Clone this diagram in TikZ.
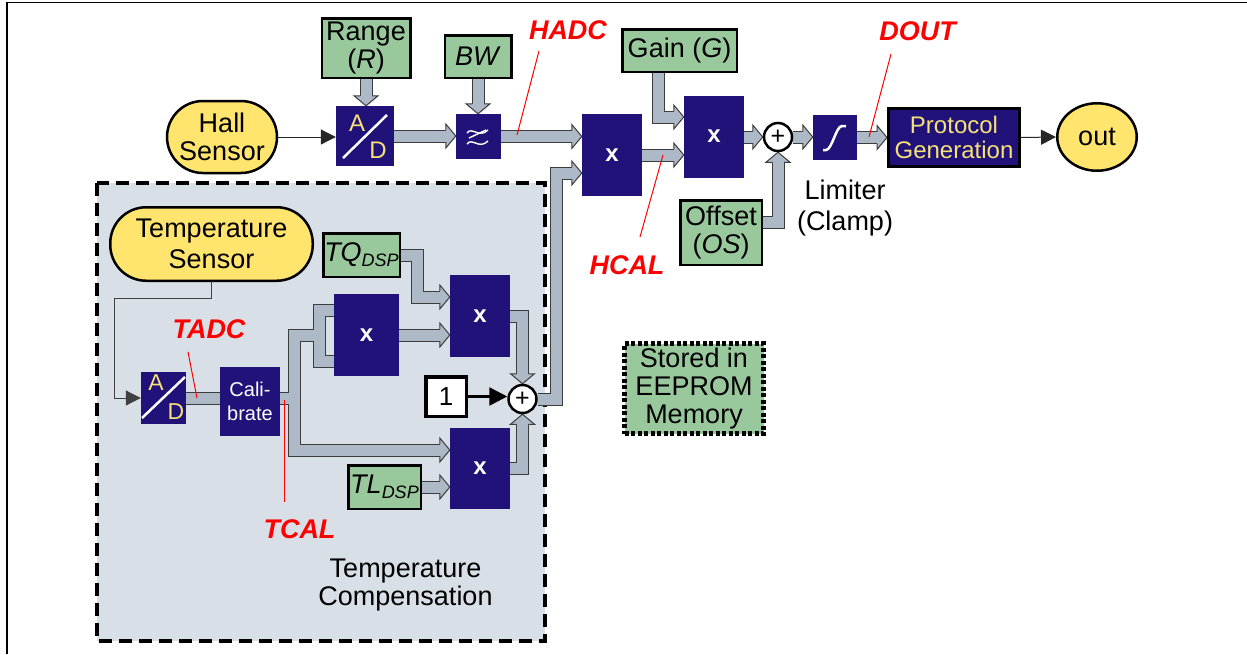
\documentclass[tikz,border=0pt]{standalone}
\usepackage{fontspec}
\setmainfont{Liberation Sans}
\usetikzlibrary{arrows.meta,shapes.geometric}
\pgfdeclarelayer{back}
\pgfdeclarelayer{bg}
\pgfsetlayers{back,bg,main}
\definecolor{navy}{RGB}{32,18,120}
\definecolor{sens}{RGB}{255,228,110}
\definecolor{param}{RGB}{152,200,155}
\definecolor{shaftc}{RGB}{173,185,198}
\definecolor{shaftl}{RGB}{60,60,60}
\definecolor{tcbg}{RGB}{217,223,231}
\definecolor{ytext}{RGB}{245,225,120}
\newcommand\myfs[2]{\fontsize{#1pt}{#2pt}\selectfont}
\tikzset{
  blk/.style={fill=navy, inner sep=0pt, text=white, font=\myfs{24}{28}\bfseries},
  prm/.style={draw=black, line width=2.5pt, fill=param, inner sep=0pt, align=center, font=\myfs{27}{28}},
  sensor/.style={draw=black, line width=2.5pt, fill=sens, inner sep=0pt, align=center, font=\myfs{27}{28}},
  txt/.style={inner sep=0pt, align=center, font=\myfs{27}{28.5}},
  redtag/.style={inner sep=0pt, text=red, font=\myfs{27}{28}\bfseries\itshape},
  shaft/.style={draw=shaftc, line width=11pt, preaction={draw=shaftl, line width=13pt}},
  shaftH/.style={shaft, shorten >=9.5pt},
  sumnode/.style={circle, draw=black, line width=2.5pt, fill=white, minimum size=28pt, inner sep=0pt, font=\myfs{25}{25}},
  thinarrow/.style={draw=black!85, line width=1pt, -{Triangle[length=15pt,width=15pt]}},
  leader/.style={draw=red, line width=1pt},
  letter/.style={inner sep=0pt, text=ytext, font=\myfs{24}{24}},
  headR/.pic={\fill[shaftc] (-10,-12) -- (0,0) -- (-10,12) -- cycle;
    \draw[shaftl, line width=1pt, line join=miter] (-10,-6) -- (-10,-12) -- (0,0) -- (-10,12) -- (-10,6);},
  headD/.pic={\fill[shaftc] (-12,-10) -- (0,0) -- (12,-10) -- cycle;
    \draw[shaftl, line width=1pt, line join=miter] (-6,-10) -- (-12,-10) -- (0,0) -- (12,-10) -- (6,-10);},
  headU/.pic={\fill[shaftc] (-12,10) -- (0,0) -- (12,10) -- cycle;
    \draw[shaftl, line width=1pt, line join=miter] (-6,10) -- (-12,10) -- (0,0) -- (12,10) -- (6,10);}
}
\begin{document}
\begin{tikzpicture}[x=1pt,y=-1pt]
\useasboundingbox (0,0) rectangle (1247,654);
\draw[line width=1.2pt] (7,654) -- (7,2.5) -- (1247,2.5);

% temperature compensation region
\begin{pgfonlayer}{back}
\draw[line width=4.5pt, dash pattern=on 13pt off 7pt, fill=tcbg] (97,183) rectangle (545,641);
\end{pgfonlayer}

% ---- main signal path nodes
\node[sensor, rounded corners=36pt, minimum width=110pt, minimum height=72pt] (hall) at (222,137) {Hall\\Sensor};
\node[prm, minimum width=88.5pt, minimum height=59.5pt] (range) at (366,48) {Range\\(\textit{R})};
\node[blk, minimum width=58pt, minimum height=60pt] (adh) at (365,136) {};
\node[prm, minimum width=66.5pt, minimum height=42.5pt] (bw) at (478,56.5) {\textit{BW}};
\node[blk, minimum size=45pt] (filt) at (478.5,136.5) {};
\node[blk, minimum width=60pt, minimum height=82pt] (m1) at (612,155) {x};
\node[prm, minimum width=114.5pt, minimum height=42.5pt] (gain) at (679.5,50.5) {Gain (\textit{G})};
\node[blk, minimum width=60pt, minimum height=82pt] (m2) at (714,136.5) {x};
\node[sumnode] (sum) at (778,137) {+};
\node[prm, minimum width=81.5pt, minimum height=64.5pt] (offs) at (721,232.5) {Offset\\(\textit{OS})};
\node[blk, minimum width=44pt, minimum height=45pt] (lim) at (835,137.5) {};
\node[txt, font=\myfs{27}{31}] (liml) at (845,208) {Limiter\\(Clamp)};
\node[blk, draw=black, line width=3pt, text=ytext, font=\myfs{24}{25}, align=center, minimum width=131pt, minimum height=58pt] (proto) at (954,137.5) {Protocol\\Generation};
\node[sensor, ellipse, minimum width=79.5pt, minimum height=67.5pt] (out) at (1097,137) {out};

% ---- temperature nodes
\node[sensor, rounded corners=36pt, minimum width=202.5pt, minimum height=73.5pt, font=\myfs{27}{31}] (tsens) at (211.5,244) {Temperature\\Sensor};
\node[blk, minimum width=45pt, minimum height=52pt] (tad) at (163.5,398) {};
\node[blk, font=\myfs{20}{23.5}, align=center, minimum width=60pt, minimum height=69pt] (cal) at (250,401.5) {Cali-\\brate};
\node[prm, minimum width=76.5pt, minimum height=43.5pt] (tq) at (361.5,255) {\textit{TQ}\raisebox{-5pt}{\myfs{18}{18}\textit{DSP}}};
\node[blk, minimum width=65pt, minimum height=82pt] (m3) at (366.5,335) {x};
\node[blk, minimum width=60pt, minimum height=82pt] (m5) at (480,316) {x};
\node[draw=black, line width=3.5pt, fill=white, minimum width=40.5pt, minimum height=39.5pt, inner sep=0pt, font=\myfs{26}{28}] (one) at (446,396.5) {1};
\node[sumnode] (sum2) at (522.5,399) {+};
\node[blk, minimum width=60pt, minimum height=81pt] (m4) at (480,468.5) {x};
\node[prm, minimum width=72.5pt, minimum height=43.5pt] (tl) at (384.5,487) {\textit{TL}\raisebox{-5pt}{\myfs{18}{18}\textit{DSP}}};
\node[txt] (tcl) at (405.5,585) {Temperature\\Compensation};

% legend
\node[prm, dash pattern=on 4pt off 2.5pt, line width=5pt, minimum width=139pt, minimum height=90pt] (eep) at (694,388.5) {Stored in\\EEPROM\\Memory};

% ---- symbols inside blocks
\draw[white, line width=2.5pt] (343,158) -- (387,115);
\node[letter] (adA) at (357,123) {A};
\node[letter] (adD) at (378,150) {D};
\draw[white, line width=2.5pt] (142,418) -- (185,377);
\node[letter, font=\myfs{23}{23}] (tadA) at (156,383) {A};
\node[letter, font=\myfs{23}{23}] (tadD) at (176,412) {D};
\draw[white, line width=1.4pt] (467,133) .. controls (472,126) and (479,139) .. (488,130);
\draw[white, line width=1.4pt] (469,138) -- (486,130);
\draw[white, line width=1.4pt] (467,144) .. controls (472,137) and (479,150) .. (488,141);
\draw[white, line width=2.5pt] (823,150) -- (826,150) .. controls (832,150) and (836,126) .. (842,126) -- (846,126);

% ---- elbow coordinates
\coordinate (gelb) at (658,117);
\coordinate (oelb) at (778,222);
\coordinate (selb) at (556,173);
\coordinate (ta) at (294,335);
\coordinate (tb) at (294,450);
\coordinate (tc) at (319,335);
\coordinate (td) at (319,310);
\coordinate (te) at (319,361);
\coordinate (tf) at (440.5,450);
\coordinate (q1) at (417,255);
\coordinate (q2) at (417,297);
\coordinate (t1) at (114,298);

% ---- block arrows
\begin{pgfonlayer}{bg}
\draw[shaftH] (range.south) -- (range.south |- adh.north);
\draw[shaftH] (adh.east) -- (adh.east -| filt.west);
\draw[shaftH] (bw.south) -- (bw.south |- filt.north);
\draw[shaftH] (filt.east) -- (filt.east -| m1.west);
\draw[shaftH] (gain.south -| gelb) -- (gelb) -- (gelb -| m2.west);
\draw[shaftH] (m1.east) -- (m1.east -| m2.west);
\draw[shaftH] (sum.west -| m2.east) -- (sum.west);
\draw[shaftH] (offs.east |- oelb) -- (oelb) -- (sum.south);
\draw[shaftH] (sum.east) -- (sum.east -| lim.west);
\draw[shaftH] (lim.east |- proto.west) -- (proto.west);
\draw[shaftH] (sum2.east) -- (sum2.east -| selb) -- (selb) -- (selb -| m1.west);
\draw[shaft] (tad.east) -- (tad.east -| cal.west)
  (cal.east |- tad.east) -- (tad.east -| ta)
  (tc) -- (ta) -- (tb) -- (tf)
  (td -| m3.west) -- (td) -- (te) -- (te -| m3.west);
\draw[shaftH] (tq.east) -- (q1) -- (q2) -- (q2 -| m5.west);
\draw[shaftH] (m3.east) -- (m3.east -| m5.west);
\draw[shaftH] (m5.east) -- (m5.east -| sum2.north) -- (sum2.north);
\draw[shaftH] (m4.east) -- (m4.east -| sum2.south) -- (sum2.south);
\draw[shaftH] (tl.east) -- (tl.east -| m4.west);

\path (range.south |- adh.north) pic {headD};
\path (adh.east -| filt.west) pic {headR};
\path (bw.south |- filt.north) pic {headD};
\path (filt.east -| m1.west) pic {headR};
\path (gelb -| m2.west) pic {headR};
\path (m1.east -| m2.west) pic {headR};
\path (sum.west) pic {headR};
\path (sum.south) pic {headU};
\path (sum.east -| lim.west) pic {headR};
\path (proto.west) pic {headR};
\path (selb -| m1.west) pic {headR};
\path (tb -| m4.west) pic {headR};
\path (q2 -| m5.west) pic {headR};
\path (m3.east -| m5.west) pic {headR};
\path (sum2.north) pic {headD};
\path (sum2.south) pic {headU};
\path (tl.east -| m4.west) pic {headR};
\end{pgfonlayer}

% ---- thin arrows
\draw[thinarrow] (hall.east) -- (hall.east -| adh.west);
\draw[thinarrow] (proto.east) -- (out.west);
\draw[thinarrow, draw=black, line width=2.5pt, -{Triangle[length=18pt,width=18pt]}] (one.east) -- (one.east -| sum2.west);
\draw[thinarrow, draw=black!75] (tsens.south) |- (t1) -- (t1 |- tad.west) -- (tad.west);

% ---- red labels
\node[redtag, anchor=base] (hadc) at (568,39) {HADC};
\node[redtag, anchor=base] (dout) at (917.5,40) {DOUT};
\node[redtag, anchor=base] (hcal) at (627,274) {HCAL};
\node[redtag, anchor=base] (tadc) at (209,338) {TADC};
\node[redtag, anchor=base] (tcal) at (299.5,538) {TCAL};
\coordinate (hadcp) at (517,135);
\coordinate (doutp) at (869,137);
\coordinate (hcalp) at (663,155);
\coordinate (tadcp) at (197,398);
\coordinate (tcalp) at (284,400);
\draw[leader] (539,51) -- (hadcp);
\draw[leader] (891,54) -- (doutp);
\draw[leader] (640,237) -- (hcalp);
\draw[leader] (188,352) -- (tadcp);
\draw[leader] (284,502) -- (tcalp);
\end{tikzpicture}
\end{document}
